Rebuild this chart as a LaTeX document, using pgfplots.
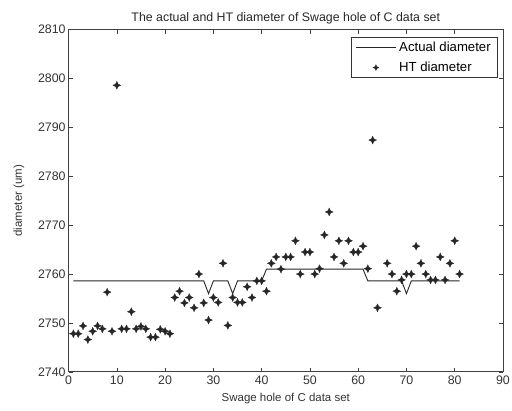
\documentclass[border=0pt]{standalone}
\usepackage{pgfplots}
\pgfplotsset{compat=1.18}
\usepackage{fontspec}
\setmainfont{Liberation Sans}
\usetikzlibrary{calc}

% four-pointed star like the MATLAB marker in the scan
\pgfdeclareplotmark{star4}{%
  \pgfpathmoveto{\pgfqpoint{0pt}{\pgfplotmarksize}}%
  \pgfpathlineto{\pgfqpoint{0.32\pgfplotmarksize}{0.32\pgfplotmarksize}}%
  \pgfpathlineto{\pgfqpoint{\pgfplotmarksize}{0pt}}%
  \pgfpathlineto{\pgfqpoint{0.32\pgfplotmarksize}{-0.32\pgfplotmarksize}}%
  \pgfpathlineto{\pgfqpoint{0pt}{-\pgfplotmarksize}}%
  \pgfpathlineto{\pgfqpoint{-0.32\pgfplotmarksize}{-0.32\pgfplotmarksize}}%
  \pgfpathlineto{\pgfqpoint{-\pgfplotmarksize}{0pt}}%
  \pgfpathlineto{\pgfqpoint{-0.32\pgfplotmarksize}{0.32\pgfplotmarksize}}%
  \pgfpathclose
  \pgfusepathqfillstroke}

\pgfplotsset{
  legline/.style={legend image code/.code={\draw[##1, line width=0.6pt] (0bp,0bp) -- (40bp,0bp);}},
  legmark/.style={legend image code/.code={\draw[mark repeat=2, mark phase=2, ##1, mark size=3bp]
        plot coordinates {(0bp,0bp) (20bp,0bp) (40bp,0bp)};}},
}

\pgfplotstableread{
x y
1 2747.8
2 2747.8
3 2749.4
4 2746.6
5 2748.3
6 2749.4
7 2748.8
8 2756.3
9 2748.3
10 2798.6
11 2748.8
12 2748.8
13 2752.3
14 2748.8
15 2749.3
16 2748.8
17 2747.1
18 2747.1
19 2748.7
20 2748.3
21 2747.8
22 2755.2
23 2756.5
24 2754.1
25 2755.2
26 2753.1
27 2760.0
28 2754.1
29 2750.6
30 2755.2
31 2754.2
32 2762.2
33 2749.5
34 2755.2
35 2754.2
36 2754.2
37 2757.4
38 2755.2
39 2758.6
40 2758.6
41 2756.5
42 2762.2
43 2763.5
44 2761.0
45 2763.5
46 2763.5
47 2766.8
48 2760.0
49 2764.5
50 2764.5
51 2760.0
52 2761.1
53 2768.0
54 2772.7
55 2763.5
56 2766.8
57 2762.2
58 2766.8
59 2764.5
60 2764.5
61 2765.7
62 2761.1
63 2787.4
64 2753.1
66 2762.2
67 2760.0
68 2756.5
69 2758.8
70 2760.0
71 2760.0
72 2765.7
73 2762.2
74 2760.0
75 2758.8
76 2758.8
77 2763.5
78 2758.8
79 2762.2
80 2766.8
81 2760.0
}\htdata

\pgfplotstableread{
x y
1 2758.6
28 2758.6
29 2756.0
30 2758.6
33 2758.6
34 2756.0
35 2758.6
40 2758.6
41 2761.0
61 2761.0
62 2758.6
69 2758.6
70 2756.0
71 2758.6
81 2758.6
}\actual

\begin{document}
\begin{tikzpicture}
\begin{axis}[
    name=ax,
    scale only axis,
    width=434bp, height=342bp,
    xmin=0, xmax=90, ymin=2740, ymax=2810,
    xtick={0,10,...,90}, ytick={2740,2750,...,2810},
    tick align=inside,
    major tick length=4bp,
    axis line style={black!75, line width=0.8pt},
    tick style={black!75, line width=0.6pt},
    /pgf/number format/assume math mode=true,
    /pgf/number format/1000 sep={},
    tick label style={font=\fontsize{12.4}{13}\selectfont, text=black!80},
    yticklabel style={xshift=0.5bp},
    title={The actual and HT diameter of Swage hole of C data set},
    title style={font=\fontsize{12.4}{13}\selectfont, text=black!85, yshift=-4bp},
    xlabel={Swage hole of C data set},
    ylabel={diameter (um)},
    label style={font=\fontsize{11.5}{12}\selectfont, text=black!80},
    xlabel style={yshift=-2bp},
    ylabel style={yshift=7bp},
    legend style={at={(0.9885,0.9775)}, anchor=north east,
        font=\fontsize{13.2}{14}\selectfont, draw=black!80, line width=0.6pt,
        inner xsep=4bp, inner ysep=3.5bp, row sep=7bp,
        legend cell align=left,
        nodes={inner xsep=3bp, inner ysep=1bp}},
]
\addplot[black!85, line width=0.9pt, legline] table {\actual};
\addlegendentry{Actual diameter}
\addplot[only marks, mark=star4, mark size=4bp, black!85, fill=black!85, line width=0.2pt, legmark]
    table {\htdata};
\addlegendentry{HT diameter}
\end{axis}
\pgfresetboundingbox
\path ($(ax.south west)+(-68.5bp,-38.5bp)$) rectangle ($(ax.north east)+(9bp,29.5bp)$);
\end{tikzpicture}
\end{document}
